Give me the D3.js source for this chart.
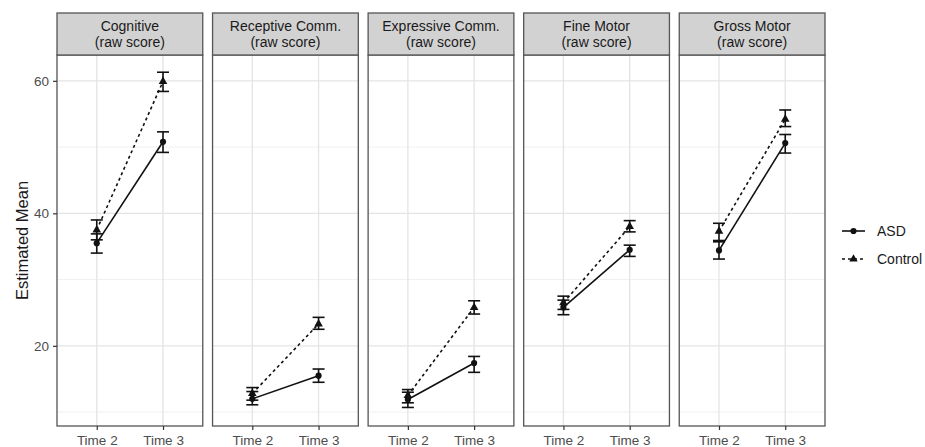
<!DOCTYPE html>
<html>
<head>
<meta charset="utf-8">
<script src="https://cdn.jsdelivr.net/npm/d3@7"></script>
<style>
  body { margin: 0; background: #fff; }
  text { font-family: "Liberation Sans", Arial, sans-serif; }
</style>
</head>
<body>
<svg width="925" height="447"></svg>
<script>
// data
var panels = ["Cognitive", "Receptive Comm.", "Expressive Comm.", "Fine Motor", "Gross Motor"];
var times = ["Time 2", "Time 3"];
var groups = ["ASD", "Control"];

// [Time 2, Time 3] means and error bar limits per panel
var asdMean  = [[35.5, 50.8], [12.0, 15.5], [11.9, 17.4], [25.8, 34.5], [34.4, 50.6]];
var asdLow   = [[34.0, 49.2], [11.1, 14.5], [10.7, 16.0], [24.7, 33.5], [33.1, 49.1]];
var asdHigh  = [[36.9, 52.3], [13.1, 16.5], [13.0, 18.4], [26.9, 35.2], [35.7, 51.9]];
var ctlMean  = [[37.5, 59.9], [12.8, 23.3], [12.5, 25.8], [26.5, 38.0], [37.3, 54.2]];
var ctlLow   = [[36.0, 58.4], [11.8, 22.5], [11.4, 24.8], [25.5, 37.2], [35.9, 53.1]];
var ctlHigh  = [[39.0, 61.3], [13.7, 24.3], [13.4, 26.8], [27.5, 38.9], [38.5, 55.6]];
var yTicks = [20, 40, 60];
var yMinor = [10, 30, 50];

var svg = d3.select("svg"),
    top0 = 13, stripH = 42,
    plotTop = top0 + stripH, plotBottom = 426,
    left = 57, right = 825;

var fx = d3.scaleBand().domain(panels).range([left, right]).paddingInner(0.063);
var pw = fx.bandwidth();

var y = d3.scaleLinear().domain([7.9, 63.9]).range([plotBottom, plotTop]);

// discrete x with ggplot-style expansion (0.6 on each side)
var x = d3.scalePoint().domain(times).range([pw * 0.6 / 2.2, pw * 1.6 / 2.2]);

var series = [
  { name: "ASD", mean: asdMean, lo: asdLow, hi: asdHigh, dash: null, shape: d3.symbolCircle },
  { name: "Control", mean: ctlMean, lo: ctlLow, hi: ctlHigh, dash: "3,3", shape: d3.symbolTriangle }
];

var line = d3.line().x(function(d) { return x(d.t); }).y(function(d) { return y(d.v); });

panels.forEach(function(p, i) {
  var g = svg.append("g").attr("transform", "translate(" + fx(p) + ",0)");

  g.append("rect").attr("x", 0).attr("y", plotTop).attr("width", pw)
    .attr("height", plotBottom - plotTop).attr("fill", "#fff");

  // grid
  g.selectAll(".minor").data(yMinor).enter().append("line")
    .attr("x1", 0).attr("x2", pw)
    .attr("y1", function(d) { return y(d); }).attr("y2", function(d) { return y(d); })
    .attr("stroke", "#f0f0f0").attr("stroke-width", 1);
  g.selectAll(".major").data(yTicks).enter().append("line")
    .attr("x1", 0).attr("x2", pw)
    .attr("y1", function(d) { return y(d); }).attr("y2", function(d) { return y(d); })
    .attr("stroke", "#e4e4e4").attr("stroke-width", 1.3);
  g.selectAll(".vmajor").data(times).enter().append("line")
    .attr("y1", plotTop).attr("y2", plotBottom)
    .attr("x1", function(d) { return x(d); }).attr("x2", function(d) { return x(d); })
    .attr("stroke", "#e4e4e4").attr("stroke-width", 1.3);

  series.forEach(function(s) {
    var pts = times.map(function(t, j) {
      return { t: t, v: s.mean[i][j], lo: s.lo[i][j], hi: s.hi[i][j] };
    });
    g.append("path").datum(pts).attr("d", line)
      .attr("fill", "none").attr("stroke", "#111").attr("stroke-width", 1.6)
      .attr("stroke-dasharray", s.dash);
    var eb = g.selectAll(null).data(pts).enter().append("g")
      .attr("stroke", "#111").attr("stroke-width", 1.6);
    eb.append("line").attr("x1", function(d) { return x(d.t); }).attr("x2", function(d) { return x(d.t); })
      .attr("y1", function(d) { return y(d.lo); }).attr("y2", function(d) { return y(d.hi); });
    eb.append("line").attr("x1", function(d) { return x(d.t) - 6; }).attr("x2", function(d) { return x(d.t) + 6; })
      .attr("y1", function(d) { return y(d.lo); }).attr("y2", function(d) { return y(d.lo); });
    eb.append("line").attr("x1", function(d) { return x(d.t) - 6; }).attr("x2", function(d) { return x(d.t) + 6; })
      .attr("y1", function(d) { return y(d.hi); }).attr("y2", function(d) { return y(d.hi); });
    g.selectAll(null).data(pts).enter().append("path")
      .attr("d", d3.symbol().type(s.shape).size(s.name === "ASD" ? 30 : 32))
      .attr("transform", function(d) { return "translate(" + x(d.t) + "," + y(d.v) + ")"; })
      .attr("fill", "#111");
  });

  // panel border
  g.append("rect").attr("x", 0).attr("y", plotTop).attr("width", pw)
    .attr("height", plotBottom - plotTop).attr("fill", "none")
    .attr("stroke", "#555").attr("stroke-width", 1.3);

  // strip
  g.append("rect").attr("x", 0).attr("y", top0).attr("width", pw).attr("height", stripH)
    .attr("fill", "#d2d2d2").attr("stroke", "#555").attr("stroke-width", 1.3);
  var st = g.append("text").attr("x", pw / 2).attr("y", top0 + 18)
    .attr("text-anchor", "middle").attr("font-size", 14).attr("fill", "#1a1a1a");
  st.append("tspan").attr("x", pw / 2).text(p);
  st.append("tspan").attr("x", pw / 2).attr("dy", 16).text("(raw score)");

  // x axis
  var xa = g.append("g").attr("transform", "translate(0," + plotBottom + ")")
    .call(d3.axisBottom(x).tickSize(4).tickPadding(5));
  xa.select(".domain").remove();
  xa.selectAll("line").attr("stroke", "#333").attr("stroke-width", 1.2);
  xa.selectAll("text").attr("font-size", 13.5).attr("fill", "#4d4d4d")
    .attr("font-family", "Liberation Sans, Arial, sans-serif");

  if (i === 0) {
    var ya = g.append("g").call(d3.axisLeft(y).tickValues(yTicks).tickSize(4).tickPadding(4));
    ya.select(".domain").remove();
    ya.selectAll("line").attr("stroke", "#333").attr("stroke-width", 1.2);
    ya.selectAll("text").attr("font-size", 13.5).attr("fill", "#4d4d4d")
      .attr("font-family", "Liberation Sans, Arial, sans-serif");
  }
});

// y axis title
svg.append("text")
  .attr("transform", "translate(28," + ((plotTop + plotBottom) / 2) + ") rotate(-90)")
  .attr("text-anchor", "middle").attr("font-size", 16.5).attr("fill", "#1a1a1a")
  .text("Estimated Mean");

// legend
var leg = svg.append("g").attr("transform", "translate(842,231)");
series.forEach(function(s, k) {
  var lg = leg.append("g").attr("transform", "translate(0," + (k * 28) + ")");
  lg.append("line").attr("x1", 0).attr("x2", 23).attr("y1", 0).attr("y2", 0)
    .attr("stroke", "#111").attr("stroke-width", 1.6).attr("stroke-dasharray", s.dash);
  lg.append("path").attr("d", d3.symbol().type(s.shape).size(30))
    .attr("transform", "translate(11.5,0)").attr("fill", "#111");
  lg.append("text").attr("x", 35).attr("y", 5).attr("font-size", 14).attr("fill", "#1a1a1a")
    .text(s.name);
});
</script>
</body>
</html>
